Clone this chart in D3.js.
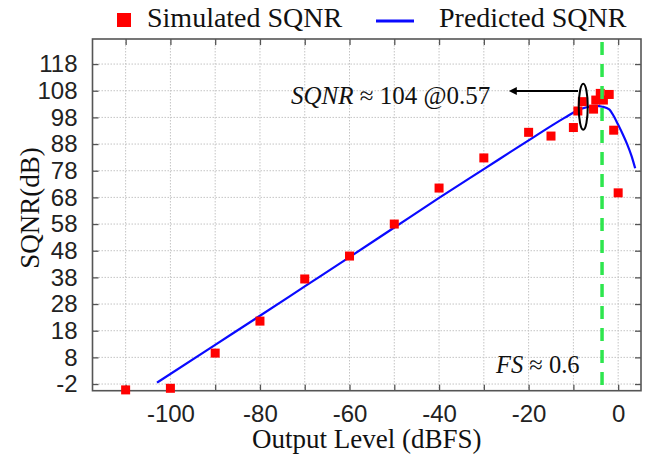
<!DOCTYPE html>
<html>
<head>
<meta charset="utf-8">
<script src="https://cdn.jsdelivr.net/npm/d3@7/dist/d3.min.js"></script>
<style>
  html, body { margin: 0; padding: 0; background: #fff; }
  svg { display: block; font-family: "Liberation Serif", "Times New Roman", serif; }
</style>
</head>
<body>
<svg id="chart" width="662" height="461"></svg>
<script>
/* SQNR vs output level: simulated points + predicted curve */

const simX = [-110, -100, -90, -80, -70, -60, -50, -40, -30, -20, -15, -10, -9, -8, -5.5, -5, -4, -3.3, -2, -1, 0];
const simY = [-4.2, -3.6, 9.6, 21.6, 37.4, 46.0, 58.0, 71.5, 82.8, 92.4, 91.0, 94.2, 100.4, 103.9, 101.1, 104.5, 107.0, 104.5, 106.6, 93.2, 69.7];

const predX = [-103, -90, -80, -70, -60, -50, -40, -30, -20, -12, -9, -7, -5, -3.5, -2, -1, 0, 1, 2, 3, 3.8];
const predY = [-1.5, 12.7, 23.6, 34.6, 45.6, 56.7, 67.8, 78.6, 89.4, 97.8, 100.7, 101.8, 102.3, 102.0, 101.0, 98.5, 95.2, 91.8, 88.0, 83.5, 78.9];

const xTicks = [-110, -100, -90, -80, -70, -60, -50, -40, -30, -20, -10, 0];
const xTickLabels = ["", "-100", "", "-80", "", "-60", "", "-40", "", "-20", "", "0"];
const yTicks = [-2, 8, 18, 28, 38, 48, 58, 68, 78, 88, 98, 108, 118];

const fsLevel = -3.6;
const peakMarker = { x: -7.8, y: 102 };

function drawChart() {
  const svg = d3.select("#chart");
  const mLeft = 92.5, mRight = 641, mTop = 39, mBottom = 390.7;

  const x = d3.scaleLinear().domain([-117.4, 5.1]).range([mLeft, mRight]);
  const y = d3.scaleLinear().domain([-4.5, 127.4]).range([mBottom, mTop]);

  const GRID = "#c4c4c4";
  const AXIS = "#555";

  // grid
  svg.append("g")
    .selectAll("line")
    .data(xTicks)
    .join("line")
    .attr("x1", (d) => x(d)).attr("x2", (d) => x(d))
    .attr("y1", mTop).attr("y2", mBottom)
    .attr("stroke", GRID).attr("stroke-width", 1).attr("stroke-dasharray", "1.5,1.5");

  svg.append("g")
    .selectAll("line")
    .data(yTicks)
    .join("line")
    .attr("x1", mLeft).attr("x2", mRight)
    .attr("y1", (d) => y(d)).attr("y2", (d) => y(d))
    .attr("stroke", GRID).attr("stroke-width", 1).attr("stroke-dasharray", "1.5,1.5");

  // axes (ticks inward, mirrored on top/right)
  const tickLen = 6;
  svg.append("g")
    .attr("transform", `translate(0,${mBottom})`)
    .call(d3.axisBottom(x).tickValues(xTicks).tickSizeInner(-tickLen).tickSizeOuter(0)
      .tickFormat((d, i) => xTickLabels[i]).tickPadding(14))
    .call((g) => g.select(".domain").remove())
    .call((g) => g.selectAll("line").attr("stroke", AXIS).attr("stroke-width", 1.3))
    .call((g) => g.selectAll("text").attr("fill", "#222").style("font-size", "24px"));

  svg.append("g")
    .attr("transform", `translate(0,${mTop})`)
    .call(d3.axisTop(x).tickValues(xTicks).tickSizeInner(-tickLen).tickSizeOuter(0).tickFormat(""))
    .call((g) => g.select(".domain").remove())
    .call((g) => g.selectAll("line").attr("stroke", AXIS).attr("stroke-width", 1.3));

  svg.append("g")
    .attr("transform", `translate(${mLeft},0)`)
    .call(d3.axisLeft(y).tickValues(yTicks).tickSizeInner(-tickLen).tickSizeOuter(0)
      .tickFormat((d) => String(d)).tickPadding(15))
    .call((g) => g.select(".domain").remove())
    .call((g) => g.selectAll("line").attr("stroke", AXIS).attr("stroke-width", 1.3))
    .call((g) => g.selectAll("text").attr("fill", "#222").style("font-size", "24px"));

  svg.append("g")
    .attr("transform", `translate(${mRight},0)`)
    .call(d3.axisRight(y).tickValues(yTicks).tickSizeInner(-tickLen).tickSizeOuter(0).tickFormat(""))
    .call((g) => g.select(".domain").remove())
    .call((g) => g.selectAll("line").attr("stroke", AXIS).attr("stroke-width", 1.3));

  svg.append("rect")
    .attr("x", mLeft).attr("y", mTop)
    .attr("width", mRight - mLeft).attr("height", mBottom - mTop)
    .attr("fill", "none").attr("stroke", AXIS).attr("stroke-width", 1.6);

  // predicted curve
  const line = d3.line()
    .x((d) => x(d[0]))
    .y((d) => y(d[1]))
    .curve(d3.curveMonotoneX);

  svg.append("path")
    .datum(predX.map((v, i) => [v, predY[i]]))
    .attr("d", line)
    .attr("fill", "none")
    .attr("stroke", "#0a0aff")
    .attr("stroke-width", 2.2);

  // simulated points
  const sq = 9;
  svg.append("g")
    .selectAll("rect")
    .data(simX.map((v, i) => [v, simY[i]]))
    .join("rect")
    .attr("x", (d) => x(d[0]) - sq / 2)
    .attr("y", (d) => y(d[1]) - sq / 2)
    .attr("width", sq).attr("height", sq)
    .attr("fill", "#ff0000");

  // full-scale marker
  svg.append("line")
    .attr("x1", x(fsLevel)).attr("x2", x(fsLevel))
    .attr("y1", mTop + 3).attr("y2", mBottom)
    .attr("stroke", "#2ee64e").attr("stroke-width", 3.5)
    .attr("stroke-dasharray", "13,9");

  // peak ellipse + arrow
  svg.append("ellipse")
    .attr("cx", x(peakMarker.x)).attr("cy", y(peakMarker.y))
    .attr("rx", 4.5).attr("ry", 23)
    .attr("fill", "none").attr("stroke", "#000").attr("stroke-width", 2);

  svg.append("defs").append("marker")
    .attr("id", "ah")
    .attr("viewBox", "0 0 10 10")
    .attr("refX", 1).attr("refY", 5)
    .attr("markerWidth", 5).attr("markerHeight", 4)
    .attr("orient", "auto")
    .append("path").attr("d", "M0,0 L10,5 L0,10 z").attr("fill", "#000");

  svg.append("line")
    .attr("x1", 578).attr("y1", 91)
    .attr("x2", 516).attr("y2", 91)
    .attr("stroke", "#000").attr("stroke-width", 2)
    .attr("marker-end", "url(#ah)");

  const ann = svg.append("text")
    .attr("x", 291).attr("y", 104)
    .style("font-size", "25px").attr("fill", "#111");
  ann.append("tspan").style("font-style", "italic").text("SQNR");
  ann.append("tspan").text(" \u2248 104 @0.57");

  const fsText = svg.append("text")
    .attr("x", 496).attr("y", 373)
    .style("font-size", "24.5px").attr("fill", "#111");
  fsText.append("tspan").style("font-style", "italic").text("FS");
  fsText.append("tspan").text(" \u2248 0.6");

  // axis titles
  svg.append("text")
    .attr("x", (mLeft + mRight) / 2).attr("y", 448)
    .attr("text-anchor", "middle")
    .style("font-size", "27px").attr("fill", "#111")
    .text("Output Level (dBFS)");

  svg.append("text")
    .attr("transform", `translate(39,208) rotate(-90)`)
    .attr("text-anchor", "middle")
    .style("font-size", "27px").attr("fill", "#111")
    .text("SQNR(dB)");

  // legend
  svg.append("rect")
    .attr("x", 117).attr("y", 13).attr("width", 14).attr("height", 14)
    .attr("fill", "#ff0000");
  svg.append("text")
    .attr("x", 147).attr("y", 27)
    .style("font-size", "28px").attr("fill", "#111")
    .text("Simulated SQNR");

  svg.append("line")
    .attr("x1", 376).attr("x2", 414).attr("y1", 21).attr("y2", 21)
    .attr("stroke", "#0a0aff").attr("stroke-width", 3);
  svg.append("text")
    .attr("x", 439).attr("y", 27)
    .style("font-size", "28px").attr("fill", "#111")
    .text("Predicted SQNR");
}

drawChart();
</script>
</body>
</html>
